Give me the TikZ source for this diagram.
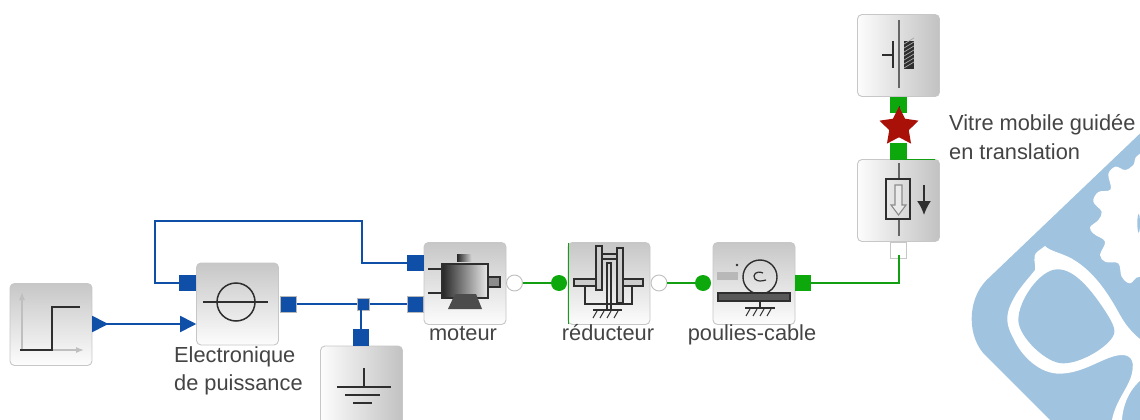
\documentclass[tikz,border=0pt]{standalone}
\usepackage{fontspec}
\setmainfont{Liberation Sans}
\usetikzlibrary{shapes.geometric,arrows.meta}
\definecolor{wireblue}{HTML}{0F4FA8}
\definecolor{wiregreen}{HTML}{12A012}
\definecolor{portgreen}{HTML}{0CA80C}
\definecolor{logoblue}{HTML}{A0C3E0}
\definecolor{starred}{HTML}{A81008}
\definecolor{txt}{HTML}{444444}
\definecolor{ink}{HTML}{2E2E2E}
\tikzset{
  blockv/.style={draw=black!22,line width=0.9pt,rounded corners=4.5pt,minimum size=82pt,inner sep=0pt,top color=black!22,bottom color=black!1},
  blockh/.style={draw=black!22,line width=0.9pt,rounded corners=4.5pt,minimum size=82pt,inner sep=0pt,left color=black!1,right color=black!24},
  portb/.style={fill=wireblue,draw=none,minimum size=16.5pt,inner sep=0pt},
  portbo/.style={fill=wireblue,draw=black!28,line width=1pt,minimum size=16pt,inner sep=0pt},
  portg/.style={fill=portgreen,draw=none,minimum size=16.5pt,inner sep=0pt},
  portw/.style={fill=white,draw=black!22,line width=0.9pt,minimum size=16pt,inner sep=0pt},
  circw/.style={circle,fill=white,draw=black!25,line width=0.9pt,minimum size=16pt,inner sep=0pt},
  circg/.style={circle,fill=portgreen,draw=none,minimum size=16pt,inner sep=0pt},
  trib/.style={isosceles triangle,isosceles triangle stretches=true,fill=wireblue,draw=none,minimum height=16pt,minimum width=16.5pt,inner sep=0pt},
  wb/.style={draw=wireblue,line width=1.7pt},
  wg/.style={draw=wiregreen,line width=1.7pt},
  lbl/.style={text=txt,font=\fontsize{21.8}{24}\selectfont,inner sep=0pt},
  icon/.style={draw=ink,line width=1.2pt},
  ticks/.style={draw=ink,line width=1pt},
}
\begin{document}
\begin{tikzpicture}[x=1pt,y=-1pt]
\clip (0,0) rectangle (1140,420);
\fill[white] (0,0) rectangle (1140,420);
% logo
\begin{scope}[shift={(950,130)},x=0.33333pt,y=-0.33333pt]
\fill[logoblue] (600,-18) -- (110,450) .. controls (50,510) and (50,625) .. (110,680) -- (320,890) -- (600,890) -- cycle;
\fill[white] plot[smooth cycle,tension=0.6] coordinates {(640,60)(565,75)(550,105)(525,120)(497,110)(475,132)(482,178)(445,186)(430,215)(455,245)(445,270)(420,292)(432,312)(465,335)(450,375)(467,396)(505,400)(515,440)(540,460)(570,440)(640,460)};
\fill[logoblue] (566,280) ellipse (4 and 28);
\fill[white] (285,348) .. controls (300,365) and (345,370) .. (380,395) .. controls (440,435) and (480,500) .. (510,555) .. controls (530,590) and (550,615) .. (600,650) -- (600,730) .. controls (550,760) and (515,810) .. (515,890) -- (483,890) .. controls (490,810) and (545,770) .. (548,715) .. controls (552,680) and (530,672) .. (505,676) .. controls (460,682) and (400,730) .. (330,731) .. controls (270,732) and (215,680) .. (190,625) .. controls (160,570) and (170,540) .. (200,490) .. controls (220,460) and (240,440) .. (255,420) .. controls (258,400) and (245,380) .. (262,365) -- cycle;
\fill[logoblue] (320,418) .. controls (370,415) and (420,475) .. (460,535) .. controls (480,565) and (495,590) .. (493,607) .. controls (490,640) and (400,700) .. (340,700) .. controls (290,702) and (205,620) .. (205,570) .. controls (205,510) and (270,420) .. (320,418) -- cycle;
\end{scope}
% blocks
\node[blockv] (step) at (51,324.5) {};
\node[blockv] (elec) at (237.5,304) {};
\node[blockh] (gnd) at (361.5,387) {};
\node[blockv] (mot) at (465,283.5) {};
\node[blockv] (red) at (609,283.5) {};
\node[blockv] (pou) at (754,283.5) {};
\node[blockh] (fix) at (898.5,55.5) {};
\node[blockh] (vit) at (898.5,200.5) {};
% ports
\node[trib,anchor=west] (stepout) at (92,324) {};
\node[trib,anchor=west] (elecin) at (180,324) {};
\node[portb] (elecfb) at (187.5,283) {};
\node[portbo] (elecout) at (288,304) {};
\node[portb] (motfb) at (415.5,263) {};
\node[portbo] (motin) at (415.5,304) {};
\node[portbo,minimum size=12pt] (junc) at (363,304) {};
\node[portb] (gndp) at (361,337.5) {};
\node[circw] (motout) at (514.5,283) {};
\node[circg] (redin) at (559,283) {};
\node[circw] (redout) at (659,283) {};
\node[circg] (pouin) at (703,283) {};
\node[portg] (pouout) at (803,283) {};
\node[portw] (vitout) at (898.5,250) {};
\node[portg] (fixp) at (898.5,105) {};
\node[portg] (vitp) at (898.5,151) {};
\coordinate (c1) at (155,283);
\coordinate (c2) at (155,221);
\coordinate (c3) at (362,221);
\coordinate (c4) at (362,263);
\coordinate (c5) at (899,283);
\coordinate (c6) at (899,255);
\draw[wb] (stepout.center) -- (elecin.center);
\draw[wb] (elecfb.west) -- (c1) -- (c2) -- (c3) -- (c4) -- (motfb.west);
\draw[wb] (elecout.east) -- (junc.west);
\draw[wb] (junc.east) -- (motin.west);
\draw[wb] (361,304) -- (gndp.north);
\draw[wg] (motout.east) -- (redin.west);
\draw[wg] (redout.east) -- (pouin.west);
\draw[wg] (pouout.east) -- (c5) -- (c6);
\draw[draw=wiregreen,line width=1pt] (568,243) -- (568,324);
\draw[draw=wiregreen,line width=1pt] (890,159) -- (935,159);
\fill[wireblue] (358,300) rectangle (368,309);
% star
\draw[ink,line width=1pt] (899,106) -- (899,114);
\node[star,star points=5,star point ratio=2.0,fill=starred,draw=none,minimum size=41pt,inner sep=0pt] (junction) at (899,127) {};
% step icon
\draw[draw=black!25,line width=1.2pt,-{Latex[length=8pt,width=6pt]}] (22,350) -- (22,292);
\draw[draw=black!25,line width=1.2pt,-{Latex[length=8pt,width=6pt]}] (20,350) -- (84,350);
\draw[draw=ink,line width=1.7pt] (20,350) -- (52,350) -- (52,307) -- (80,307);
% electronique icon
\draw[icon,line width=1.5pt] (236,302) circle (19);
\draw[icon,line width=1.5pt] (203,302) -- (268,302);
% ground icon
\draw[icon,line width=1.8pt] (364,368) -- (364,387);
\draw[icon,line width=1.8pt] (337,387) -- (391,387);
\draw[icon,line width=1.8pt] (345,395) -- (380,395);
\draw[icon,line width=1.8pt] (353,403) -- (372,403);
% moteur icon
\shade[left color=black!85,right color=black!15] (457,254) rectangle (472,261);
\draw[icon] (428,269) -- (442,269) (428,293) -- (442,293);
\draw[draw=ink,line width=1.2pt,fill=black!45] (488,277) rectangle (500,287);
\shade[left color=black!85,right color=black!8] (442,264) rectangle (488,298);
\draw[icon,line width=1.3pt] (442,264) rectangle (488,298);
\fill[black!70] (448,309) -- (482,309) -- (476,294) -- (455,294) -- cycle;
% reducteur icon
\draw[icon,fill=black!20] (596,246) rectangle (602,290);
\draw[icon,fill=black!20] (617,248) rectangle (623,303);
\draw[icon,fill=black!20] (602,254) rectangle (617,259);
\draw[icon,fill=black!20] (574,279) rectangle (596,286);
\draw[icon,fill=black!20] (623,279) rectangle (643,286);
\draw[icon] (607,263) rectangle (611,310);
\draw[icon] (585,287) -- (585,304) -- (632,304) -- (632,287);
\draw[icon] (593,310) -- (622,310);
\foreach \x in {597,604,611,618}{\draw[ticks] (\x,311) -- (\x-4,318);}
% poulies icon
\fill[black!28] (717,272) rectangle (738,280);
\draw[icon,line width=1.4pt] (760,277) circle (17);
\draw[icon] (763,273) .. controls (756,270) and (752,275) .. (755,279) .. controls (758,282) and (762,281) .. (766,280);
\fill[ink] (737,265) circle (1.3);
\draw[icon,fill=black!65] (718,293) rectangle (790,301);
\draw[icon] (760,301) -- (760,308);
\draw[icon] (745,308) -- (775,308);
\foreach \x in {750,757,764,771}{\draw[ticks] (\x,309) -- (\x-4,316);}
% fixed icon
\draw[draw=black!60,line width=1.2pt] (899,20) -- (899,88);
\draw[icon,line width=1.4pt] (882,55) -- (893,55) (893,41) -- (893,68);
\fill[ink] (904,41) rectangle (914,69);
\foreach \y in {44,48,52,56,60,64,68}{\draw[draw=black!35,line width=0.7pt] (904,\y) -- (914,\y-6);}
% vitre icon
\draw[draw=black!60,line width=1.2pt] (899,163) -- (899,179) (899,219) -- (899,236);
\draw[icon,line width=1.4pt] (886,179) rectangle (910,219);
\draw[draw=black!45,line width=1.1pt,fill=white,fill opacity=0.35] (895,185) -- (902,185) -- (902,205) -- (906,205) -- (898.5,215) -- (891,205) -- (895,205) -- cycle;
\draw[draw=ink,line width=1.8pt,-{Latex[length=14pt,width=14pt]}] (924,185) -- (924,215);
% labels
\node[lbl,anchor=base west] (t1) at (174,362) {Electronique};
\node[lbl,anchor=base west] (t2) at (174,390) {de puissance};
\node[lbl,anchor=base] (t3) at (463,340) {moteur};
\node[lbl,anchor=base] (t4) at (608,340) {réducteur};
\node[lbl,anchor=base] (t5) at (752,340) {poulies-cable};
\node[lbl,anchor=base west] (t6) at (949,130) {Vitre mobile guidée};
\node[lbl,anchor=base west] (t7) at (949,159) {en translation};
\end{tikzpicture}
\end{document}
